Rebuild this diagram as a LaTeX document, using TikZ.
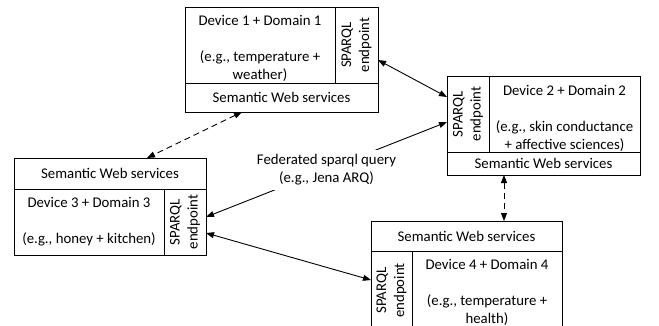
\documentclass[tikz,border=0pt]{standalone}
\usepackage{fontspec}
\setmainfont{Carlito}
\usetikzlibrary{arrows.meta}
\newcommand\mlines[1]{\begin{tabular}[t]{@{}c@{}}#1\end{tabular}}
\begin{document}
\begin{tikzpicture}[x=1pt,y=-1pt,
  every node/.style={font=\fontsize{14.8}{18}\selectfont, inner sep=0pt, outer sep=0pt},
  cell/.style={draw=black, line width=1pt, anchor=north west},
  txt/.style={anchor=base, align=center},
  sparql/.style={rotate=90, anchor=center},
  arr/.style={line width=0.9pt, {Triangle[length=8pt,width=6pt]}-{Triangle[length=8pt,width=6pt]}},
  darr/.style={arr, dash pattern=on 6pt off 4pt},
  lbl/.style={fill=white, inner sep=2pt}]
\useasboundingbox (0,0) rectangle (659,325);
\fill[white] (0,0) rectangle (659,325);

% Box 1
\node[cell, minimum width=150pt, minimum height=76pt] (m1) at (185,7) {};
\node[cell, minimum width=43pt, minimum height=76pt] (sp1) at (335,7) {};
\node[cell, minimum width=193pt, minimum height=29pt] (sws1) at (185,83) {};
\node[txt] (t1) at (260,25.5) {\mlines{Device 1 + Domain 1\\ \\(e.g., temperature +\\weather)}};
\node[sparql] (st1) at (sp1.center) {\mlines{SPARQL\\endpoint}};
\node (w1) at (sws1.center) {Semantic Web services};

% Box 2
\node[cell, minimum width=42pt, minimum height=76pt] (sp2) at (447,76) {};
\node[cell, minimum width=151pt, minimum height=76pt] (m2) at (489,76) {};
\node[cell, minimum width=193pt, minimum height=23pt] (sws2) at (447,152) {};
\node[txt] (t2) at (564.5,95) {\mlines{Device 2 + Domain 2\\ \\(e.g., skin conductance\\+ affective sciences)}};
\node[sparql] (st2) at (sp2.center) {\mlines{SPARQL\\endpoint}};
\node (w2) at (sws2.center) {Semantic Web services};

% Box 3
\node[cell, minimum width=192pt, minimum height=31pt] (sws3) at (14,158) {};
\node[cell, minimum width=150pt, minimum height=66pt] (m3) at (14,189) {};
\node[cell, minimum width=42pt, minimum height=66pt] (sp3) at (164,189) {};
\node[txt] (t3) at (89,207) {\mlines{Device 3 + Domain 3\\ \\(e.g., honey + kitchen)}};
\node[sparql] (st3) at (sp3.center) {\mlines{SPARQL\\endpoint}};
\node (w3) at (sws3.center) {Semantic Web services};

% Box 4
\node[cell, minimum width=191pt, minimum height=30pt] (sws4) at (371,221) {};
\node[cell, minimum width=41pt, minimum height=79pt] (sp4) at (371,251) {};
\node[cell, minimum width=150pt, minimum height=79pt] (m4) at (412,251) {};
\node[txt] (t4) at (487,269) {\mlines{Device 4 + Domain 4\\ \\(e.g., temperature +\\health)}};
\node[sparql] (st4) at (sp4.center) {\mlines{SPARQL\\endpoint}};
\node (w4) at (sws4.center) {Semantic Web services};

% Connectors
\draw[arr] ([yshift=-15pt]sp1.east) -- ([yshift=17pt]sp2.west);
\draw[darr] ([xshift=-39.5pt]sws1.south) -- ([xshift=37pt]sws3.north);
\draw[arr] ([yshift=-8pt]sp2.west) -- node[lbl, midway] (fed) {\mlines{Federated sparql query\\(e.g., Jena ARQ)}} ([yshift=5pt]sp3.east);
\draw[arr] ([yshift=-11pt]sp3.east) -- ([yshift=10.5pt]sp4.west);
\draw[darr] ([xshift=-39.5pt]sws2.south) -- ([xshift=37.5pt]sws4.north);
\end{tikzpicture}
\end{document}
